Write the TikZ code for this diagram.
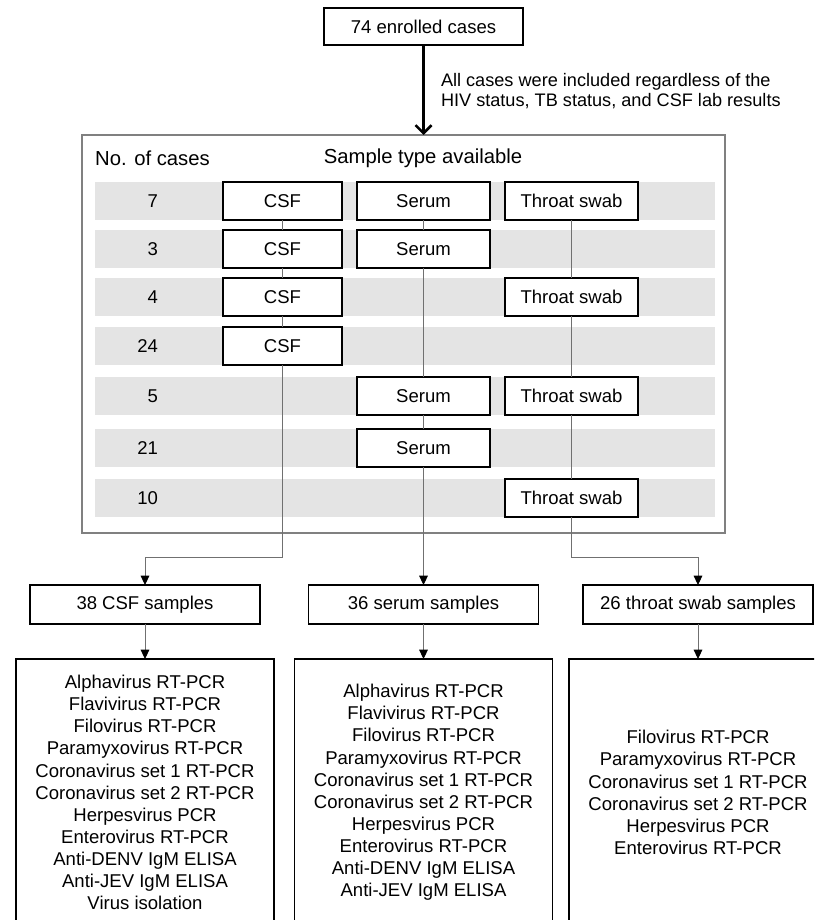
\documentclass[tikz,border=0pt]{standalone}
\usepackage{fontspec}
\setmainfont{Liberation Sans}
\usetikzlibrary{arrows.meta}
\definecolor{rowgray}{HTML}{E4E4E4}
\definecolor{linegray}{HTML}{707070}
\definecolor{framegray}{HTML}{808080}
\begin{document}
\begin{tikzpicture}[x=0.75pt,y=-0.75pt,
  every node/.style={font=\fontsize{13.9}{16.6}\selectfont, inner sep=0pt, outer sep=0pt},
  box/.style={draw=black, line width=1.4pt, fill=white, minimum height={38*0.75pt}},
  csfbox/.style={box, minimum width={119*0.75pt}},
  serbox/.style={box, minimum width={133*0.75pt}},
  thrbox/.style={box, minimum width={133*0.75pt}},
  sampbox/.style={box, minimum width={230*0.75pt}, minimum height={39*0.75pt}},
  listbox/.style={box, minimum width={258*0.75pt}, minimum height={267*0.75pt}, align=center},
  num/.style={anchor=east},
  hdr/.style={font=\fontsize{15.2}{18}\selectfont},
  conn/.style={draw=linegray, line width=0.7pt},
  arr/.style={conn, -{Triangle[length=7pt,width=6.5pt,color=black]}},
  rowbg/.style={fill=rowgray}
]
\path[use as bounding box, clip] (0,0) rectangle (814,920);

% top
\node[box, minimum width={199*0.75pt}, minimum height={37*0.75pt}] (top) at (423.5,26.5) {74 enrolled cases};
\node[anchor=west, align=left, font=\fontsize{13.6}{15.2}\selectfont] (note) at (441,91)
  {All cases were included regardless of the\\HIV status, TB status, and CSF lab results};

% frame
\node[draw=framegray, line width=1.3pt, minimum width={643*0.75pt}, minimum height={398*0.75pt}] (frame) at (403.5,334) {};
\draw[line width=1.9pt, -{Straight Barb[length=6pt,width=12pt]}] (top.south) -- (top.south |- frame.north);

% header
\node[hdr] (hdr1) at (152.5,158) {No. of cases};
\node[hdr] (hdr2) at (423,158) {Sample type available};

% gray rows
\fill[rowbg] (95,182) rectangle (715,220);
\fill[rowbg] (95,230) rectangle (715,268);
\fill[rowbg] (95,278) rectangle (715,316);
\fill[rowbg] (95,327) rectangle (715,365);
\fill[rowbg] (95,377) rectangle (715,415);
\fill[rowbg] (95,429) rectangle (715,467);
\fill[rowbg] (95,479) rectangle (715,517);

% numbers
\node[num] (n1) at (158,201) {7};
\node[num] (n2) at (158,249) {3};
\node[num] (n3) at (158,297) {4};
\node[num] (n4) at (158,346) {24};
\node[num] (n5) at (158,396) {5};
\node[num] (n6) at (158,448) {21};
\node[num] (n7) at (158,498) {10};

% sample boxes
\node[csfbox] (c1) at (282.5,201) {CSF};
\node[serbox] (s1) at (423.5,201) {Serum};
\node[thrbox] (t1) at (571.5,201) {Throat swab};
\node[csfbox] (c2) at (282.5,249) {CSF};
\node[serbox] (s2) at (423.5,249) {Serum};
\node[csfbox] (c3) at (282.5,297) {CSF};
\node[thrbox] (t3) at (571.5,297) {Throat swab};
\node[csfbox] (c4) at (282.5,346) {CSF};
\node[serbox] (s5) at (423.5,396) {Serum};
\node[thrbox] (t5) at (571.5,396) {Throat swab};
\node[serbox] (s6) at (423.5,448) {Serum};
\node[thrbox] (t7) at (571.5,498) {Throat swab};

% summary boxes
\node[sampbox] (csfs) at (145,604.5) {38 CSF samples};
\node[sampbox] (sers) at (423.5,604.5) {36 serum samples};
\node[sampbox] (thrs) at (698,604.5) {26 throat swab samples};

% list boxes
\node[listbox] (csfl) at (145,792.5) {Alphavirus RT-PCR\\Flavivirus RT-PCR\\Filovirus RT-PCR\\Paramyxovirus RT-PCR\\Coronavirus set 1 RT-PCR\\Coronavirus set 2 RT-PCR\\Herpesvirus PCR\\Enterovirus RT-PCR\\Anti-DENV IgM ELISA\\Anti-JEV IgM ELISA\\Virus isolation};
\node[listbox] (serl) at (423.5,792.5) {Alphavirus RT-PCR\\Flavivirus RT-PCR\\Filovirus RT-PCR\\Paramyxovirus RT-PCR\\Coronavirus set 1 RT-PCR\\Coronavirus set 2 RT-PCR\\Herpesvirus PCR\\Enterovirus RT-PCR\\Anti-DENV IgM ELISA\\Anti-JEV IgM ELISA};
\node[listbox] (thrl) at (698,792.5) {Filovirus RT-PCR\\Paramyxovirus RT-PCR\\Coronavirus set 1 RT-PCR\\Coronavirus set 2 RT-PCR\\Herpesvirus PCR\\Enterovirus RT-PCR};

% connectors
\coordinate (ylev) at (0,557);
\draw[conn] (c1) -- (c2);
\draw[conn] (c2) -- (c3);
\draw[conn] (c3) -- (c4);
\draw[arr] (c4) -- (c4 |- ylev) -| (csfs);
\draw[conn] (s1) -- (s2);
\draw[conn] (s2) -- (s5);
\draw[conn] (s5) -- (s6);
\draw[arr] (s6) -- (sers);
\draw[conn] (t1) -- (t3);
\draw[conn] (t3) -- (t5);
\draw[conn] (t5) -- (t7);
\draw[arr] (t7) -- (t7 |- ylev) -| (thrs);
\draw[arr] (csfs) -- (csfl);
\draw[arr] (sers) -- (serl);
\draw[arr] (thrs) -- (thrl);
\end{tikzpicture}
\end{document}
